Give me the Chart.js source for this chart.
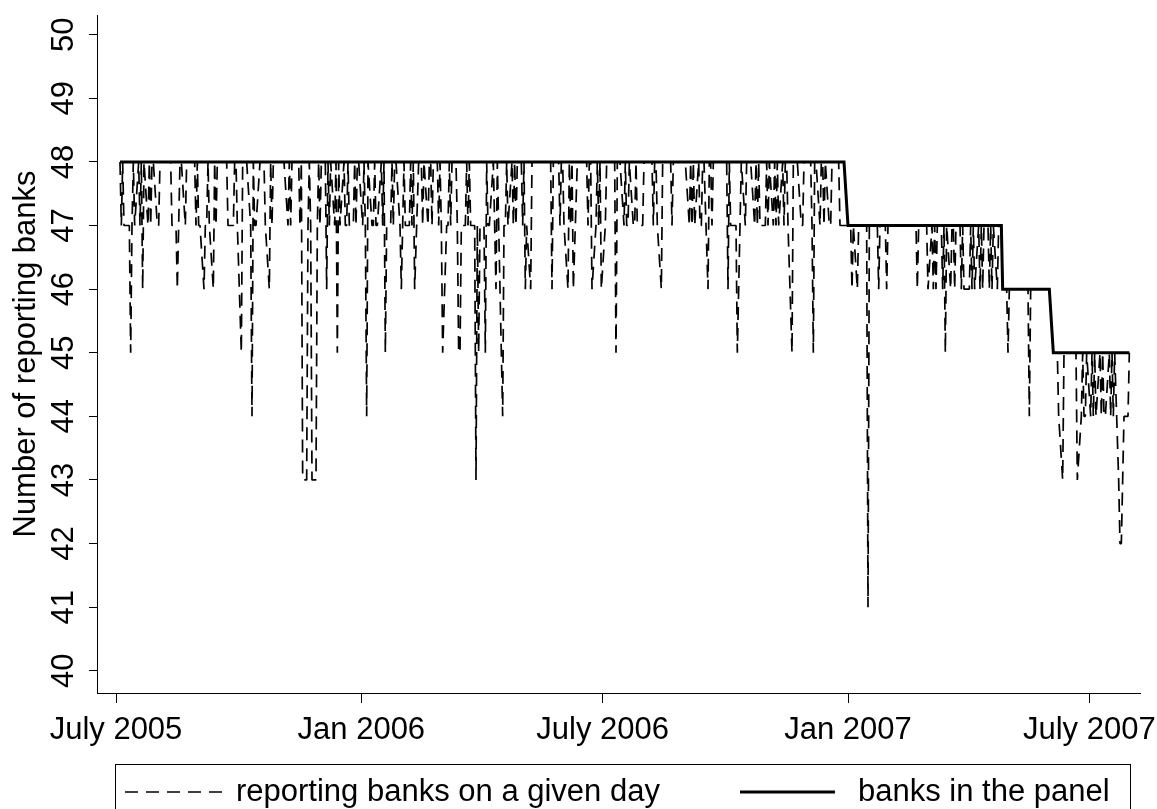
<!DOCTYPE html>
<html>
<head>
<meta charset="utf-8">
<title>Number of reporting banks</title>
<script src="https://cdn.jsdelivr.net/npm/chart.js@4.4.1/dist/chart.umd.min.js"></script>
<style>
  html, body { margin: 0; padding: 0; background: #fff; }
  #wrap { width: 1157px; height: 809px; position: relative; }
</style>
</head>
<body>
<div id="wrap"><canvas id="chart"></canvas></div>
<script>
// business days covered by the series
const firstDay = '2005-07-04';
const lastDay = '2007-07-31';

// x axis ticks
const tickDates = ['2005-07-01', '2006-01-01', '2006-07-01', '2007-01-01', '2007-07-01'];
const tickLabels = ['July 2005', 'Jan 2006', 'July 2006', 'Jan 2007', 'July 2007'];
const yTicks = [40, 41, 42, 43, 44, 45, 46, 47, 48, 49, 50];

// banks in the panel: level from each start date on
const panelStarts = ['2005-07-04', '2007-01-01', '2007-04-27', '2007-06-04'];
const panelLevels = [48, 47, 46, 45];

// reporting banks on a given day, one value per business day (5 per week)
const reporting2005Q3 = [
  48,47,48,47,47, 47,45,47,48,47, 48,47,48,46,48, 47,48,47,48,48, 47,47,48,48,48,
  48,48,48,48,47, 47,46,47,48,48, 47,48,48,48,48, 48,47,48,47,47, 46,47,47,48,47,
  46,48,47,48,48, 48,48,48,48,47, 47,47,48,48,47
];
const reporting2005Q4 = [
  45,48,48,48,48, 47,44,48,47,47, 48,48,48,48,47, 46,48,47,48,48, 48,48,48,48,48,
  47,48,47,48,48, 48,48,47,48,43, 43,47,48,47,43, 43,47,48,47,48, 48,46,48,47,48,
  47,48,45,48,47, 48,47,47,48,47, 47,48,47,48,48
];
const reporting2006Q1 = [
  47,48,47,44,48, 47,47,48,47,47, 48,47,48,45,47, 47,48,47,48,48, 47,46,47,48,47,
  47,48,47,48,46, 48,48,48,47,48, 47,48,48,47,48, 48,47,48,47,45, 47,47,48,47,48,
  48,47,45,45,47, 47,48,47,48,47, 47,43,47,45,47
];
const reporting2006Q2 = [
  47,45,48,47,47, 48,47,46,48,47, 44,47,47,48,47, 48,47,48,47,48, 48,47,48,46,47,
  46,48,48,48,48, 48,48,48,48,48, 48,48,46,48,48, 48,47,48,48,47, 46,48,47,48,46,
  48,48,48,48,48, 48,47,48,48,46, 47,48,47,48,46
];
const reporting2006Q3 = [
  47,48,48,48,48, 48,45,48,48,48, 47,48,47,47,48, 47,47,48,47,47, 47,48,48,48,48,
  48,47,48,48,47, 46,48,48,48,48, 48,47,48,48,48, 48,48,48,48,48, 47,48,47,48,47,
  48,47,47,48,48, 46,48,48,47,48, 48,48,48,48,48
];
const reporting2006Q4 = [
  48,46,48,47,47, 47,45,46,47,48, 47,48,48,48,48, 47,48,47,48,47, 47,47,48,47,48,
  47,48,47,48,47, 48,47,48,48,47, 45,48,48,48,48, 47,47,48,48,48, 48,47,45,48,48,
  47,48,48,47,48, 47,47,48,48,48, 48,47,47,47,47
];
const reporting2007Q1 = [
  47,47,47,46,47, 46,47,47,47,47, 47,41,47,47,47, 47,47,46,47,47, 47,46,47,47,47,
  47,47,47,47,47, 47,47,47,47,47, 47,47,47,46,47, 47,47,47,47,46, 47,46,47,46,47,
  47,46,47,45,47, 46,47,47,46,47, 47,46,47,46,46
];
const reporting2007Q2 = [
  46,47,46,47,46, 47,46,47,46,47, 47,46,47,46,47, 46,47,47,47,46, 46,45,46,46,46,
  46,46,46,46,46, 46,46,46,44,46, 46,46,46,46,46, 46,46,46,46,46, 45,45,45,45,44,
  43,45,45,45,45, 45,45,45,45,43, 44,45,44,44,45
];
const reporting2007Jul = [
  44,45,44,45,44, 45,44,45,44,44, 45,44,45,44,45, 43,42,42,43,44, 44,45
];

const DAY = 864e5;
const origin = Date.UTC(2005, 6, 1);
const toTime = (s) => Date.parse(s + 'T00:00:00Z');
const toDayNum = (t) => Math.round((t - origin) / DAY);

function businessDays(from, to) {
  const out = [];
  for (let t = toTime(from); t <= toTime(to); t += DAY) {
    const wd = new Date(t).getUTCDay();
    if (wd !== 0 && wd !== 6) out.push(t);
  }
  return out;
}

const days = businessDays(firstDay, lastDay);
const reporting = [].concat(reporting2005Q3, reporting2005Q4, reporting2006Q1, reporting2006Q2,
  reporting2006Q3, reporting2006Q4, reporting2007Q1, reporting2007Q2, reporting2007Jul);
const startTimes = panelStarts.map(toTime);

function panelOn(t) {
  let level = panelLevels[0];
  startTimes.forEach((s, i) => { if (t >= s) level = panelLevels[i]; });
  return level;
}

const reportingPoints = days.map((t, i) => ({ x: toDayNum(t), y: reporting[i] }));
const panelPoints = days.map((t) => ({ x: toDayNum(t), y: panelOn(t) }));
const tickDays = tickDates.map((d) => toDayNum(toTime(d)));

const FONT = "'Liberation Sans', Arial, sans-serif";

// legend drawn as a framed box under the axis, like the original
const boxLegend = {
  id: 'boxLegend',
  afterDraw(chart) {
    const ctx = chart.ctx;
    const slots = [
      { x0: 125, x1: 230, tx: 236 },
      { x0: 740, x1: 835, tx: 858 },
    ];
    const y = 792;
    ctx.save();
    ctx.strokeStyle = '#000';
    ctx.lineWidth = 1;
    ctx.setLineDash([]);
    ctx.strokeRect(115.5, 764.5, 1015, 60);
    ctx.font = '31px ' + FONT;
    ctx.fillStyle = '#000';
    ctx.textBaseline = 'middle';
    chart.data.datasets.forEach((ds, i) => {
      const s = slots[i];
      ctx.beginPath();
      ctx.lineWidth = ds.borderWidth;
      ctx.setLineDash(ds.borderDash || []);
      ctx.moveTo(s.x0, y);
      ctx.lineTo(s.x1, y);
      ctx.stroke();
      ctx.fillText(ds.label, s.tx, y);
    });
    ctx.restore();
  }
};

new Chart(document.getElementById('chart'), {
  type: 'line',
  data: {
    datasets: [
      {
        label: 'reporting banks on a given day',
        data: reportingPoints,
        borderColor: '#000',
        borderWidth: 1.7,
        borderDash: [13, 8],
        borderJoinStyle: 'bevel',
        pointRadius: 0,
        tension: 0,
        order: 2,
      },
      {
        label: 'banks in the panel',
        data: panelPoints,
        borderColor: '#000',
        borderWidth: 3,
        pointRadius: 0,
        tension: 0,
        order: 1,
      },
    ],
  },
  options: {
    responsive: true,
    maintainAspectRatio: false,
    devicePixelRatio: 1,
    animation: false,
    layout: { padding: { top: 15, left: 0, right: 17, bottom: 61 } },
    plugins: { legend: { display: false }, tooltip: { enabled: false } },
    scales: {
      x: {
        type: 'linear',
        min: -14.25,
        max: 768,
        afterBuildTicks: (s) => { s.ticks = tickDays.map((v) => ({ value: v })); },
        afterFit: (s) => { s.height = 55; s.paddingLeft = 0; s.paddingRight = 0; },
        grid: { drawOnChartArea: false, tickLength: 10, color: '#000' },
        border: { color: '#000', width: 1 },
        ticks: {
          autoSkip: false,
          maxRotation: 0,
          minRotation: 0,
          padding: 9,
          color: '#000',
          font: { family: FONT, size: 31 },
          callback: (v) => tickLabels[tickDays.indexOf(v)],
        },
      },
      y: {
        min: 39.65,
        max: 50.31,
        afterBuildTicks: (s) => { s.ticks = yTicks.map((v) => ({ value: v })); },
        afterFit: (s) => { s.width = 97; s.paddingTop = 0; s.paddingBottom = 0; },
        grid: { drawOnChartArea: false, tickLength: 8, color: '#000' },
        border: { color: '#000', width: 1 },
        ticks: {
          minRotation: 90,
          maxRotation: 90,
          crossAlign: 'center',
          padding: 7,
          color: '#000',
          font: { family: FONT, size: 31 },
        },
        title: {
          display: true,
          text: 'Number of reporting banks',
          color: '#000',
          font: { family: FONT, size: 31 },
          padding: { top: 8, bottom: 0 },
        },
      },
    },
  },
  plugins: [boxLegend],
});
</script>
</body>
</html>
